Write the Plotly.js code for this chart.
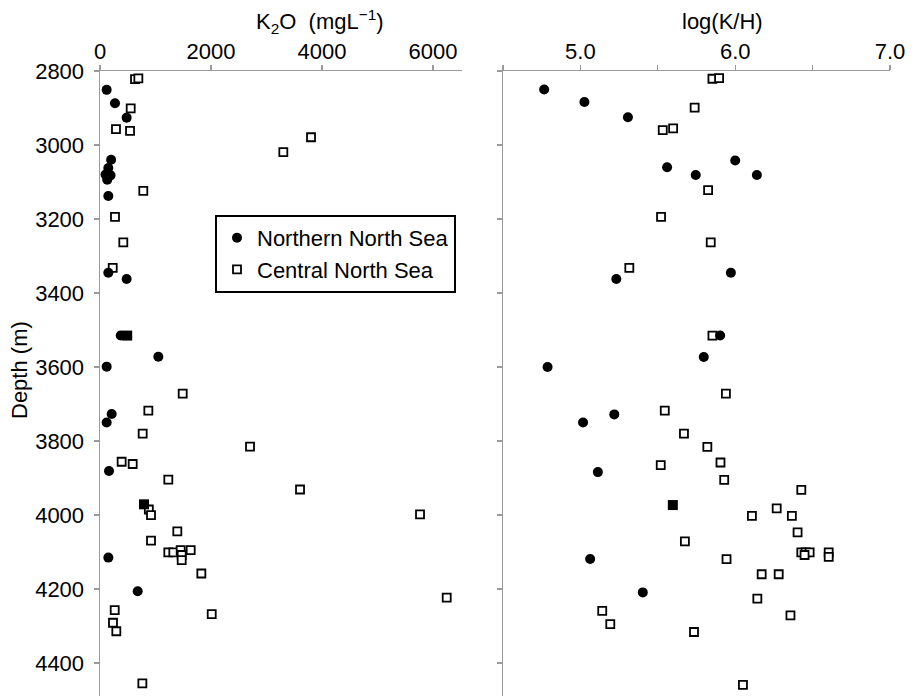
<!DOCTYPE html>
<html><head><meta charset="utf-8">
<script src="https://cdn.plot.ly/plotly-3.0.1.min.js"></script>
<style>html,body{margin:0;padding:0;background:#fff}#chart{width:917px;height:696px}</style>
</head><body><div id="chart"></div>
<script>
// Left panel: K2O (mg/L) vs depth (m)
const northK2O   = [120, 270, 480, 200, 150, 100, 190, 130, 150, 150, 480, 373, 1051, 120, 210, 120, 162, 150, 679];
const northDepthA = [2851, 2887, 2926, 3040, 3062, 3080, 3082, 3094, 3138, 3345, 3362, 3515, 3572, 3599, 3727, 3750, 3881, 4115, 4206];
const centralK2O = [631, 691, 553, 288, 541, 3802, 3303, 780, 270, 420, 229, 1490, 871, 769, 2703, 390, 589, 1231, 3604, 880, 919, 5766, 1393, 919, 1231, 1321, 1454, 1634, 1472, 1472, 1826, 6247, 265, 2013, 234, 294, 763];
const centralDepthA = [2822, 2820, 2901, 2957, 2962, 2979, 3019, 3124, 3194, 3263, 3332, 3672, 3718, 3780, 3815, 3856, 3862, 3904, 3931, 3985, 4000, 3998, 4044, 4069, 4101, 4101, 4095, 4095, 4108, 4122, 4158, 4223, 4257, 4268, 4291, 4314, 4455];
const otherK2O = [490, 793];
const otherDepthA = [3515, 3971];

// Right panel: log(K/H) vs depth (m)
const northLogKH = [4.766, 5.026, 5.307, 6.0, 5.56, 5.745, 6.14, 5.972, 5.232, 5.903, 5.797, 4.788, 5.219, 5.017, 5.113, 5.063, 5.403];
const northDepthB = [2850, 2884, 2925, 3042, 3060, 3081, 3081, 3345, 3362, 3515, 3573, 3600, 3728, 3750, 3884, 4119, 4209];
const centralLogKH = [5.853, 5.896, 5.738, 5.532, 5.599, 5.825, 5.521, 5.842, 5.316, 5.853, 5.94, 5.545, 5.669, 5.82, 5.905, 5.519, 5.929, 6.427, 6.268, 6.108, 6.366, 6.403, 5.675, 6.427, 6.455, 6.481, 6.448, 6.604, 6.604, 5.944, 6.171, 6.281, 6.143, 6.357, 5.141, 5.193, 5.734, 6.05];
const centralDepthB = [2821, 2819, 2899, 2960, 2955, 3122, 3194, 3263, 3332, 3515, 3672, 3718, 3780, 3816, 3858, 3865, 3905, 3932, 3982, 4002, 4002, 4047, 4071, 4101, 4101, 4101, 4108, 4101, 4113, 4119, 4160, 4160, 4226, 4271, 4259, 4295, 4316, 4459];
const otherLogKH = [5.597];
const otherDepthB = [3973];

const seriesNames = ['Northern North Sea', 'Central North Sea'];
const k2oTicks = [0, 2000, 4000, 6000];
const khTickVals = [5.0, 6.0, 7.0];
const khMinorVals = [4.5, 5.5, 6.5];
const depthTicks = [2800, 3000, 3200, 3400, 3600, 3800, 4000, 4200, 4400];

const FONT = 'Liberation Sans, Arial, sans-serif';
const FS = 22;
const circleM = {symbol: 'circle', size: 10, color: '#000', line: {width: 0}};
const squareM = {symbol: 'square', size: 8, color: '#fff', line: {color: '#000', width: 1.8}};
const filledM = {symbol: 'square', size: 10, color: '#000', line: {width: 0}};

const traces = [
  {x: centralK2O, y: centralDepthA, xaxis: 'x', yaxis: 'y', mode: 'markers', type: 'scatter', name: seriesNames[1], marker: squareM, showlegend: false},
  {x: otherK2O, y: otherDepthA, xaxis: 'x', yaxis: 'y', mode: 'markers', type: 'scatter', name: 'other', marker: filledM, showlegend: false},
  {x: northK2O, y: northDepthA, xaxis: 'x', yaxis: 'y', mode: 'markers', type: 'scatter', name: seriesNames[0], marker: circleM, showlegend: true, legendrank: 1},
  {x: [null], y: [null], xaxis: 'x', yaxis: 'y', mode: 'markers', type: 'scatter', name: seriesNames[1], marker: squareM, showlegend: true, legendrank: 2},
  {x: centralLogKH, y: centralDepthB, xaxis: 'x2', yaxis: 'y2', mode: 'markers', type: 'scatter', name: seriesNames[1], marker: squareM, showlegend: false},
  {x: otherLogKH, y: otherDepthB, xaxis: 'x2', yaxis: 'y2', mode: 'markers', type: 'scatter', name: 'other', marker: filledM, showlegend: false},
  {x: northLogKH, y: northDepthB, xaxis: 'x2', yaxis: 'y2', mode: 'markers', type: 'scatter', name: seriesNames[0], marker: circleM, showlegend: false}
];

const axColor = '#9a9a9a';
const common = {showgrid: false, zeroline: false, showline: true, linecolor: axColor, linewidth: 1.5,
  ticks: 'outside', ticklen: 5, tickwidth: 1.3, tickcolor: axColor,
  tickfont: {family: FONT, size: FS, color: '#000'}};

const layout = {
  width: 917, height: 696,
  margin: {l: 0, r: 0, t: 71, b: 0},
  paper_bgcolor: '#fff', plot_bgcolor: '#fff',
  font: {family: FONT, size: FS, color: '#000'},
  xaxis: Object.assign({}, common, {domain: [100/917, 461.7/917], range: [0, 6517], side: 'top', anchor: 'y',
    tickvals: k2oTicks, ticklabelstandoff: -3}),
  yaxis: Object.assign({}, common, {domain: [0, 1], range: [4489, 2800], anchor: 'x', tickvals: depthTicks, ticklabelstandoff: 5}),
  xaxis2: Object.assign({}, common, {domain: [503/917, 890/917], range: [4.5, 7.0], side: 'top', anchor: 'y2',
    tickvals: khTickVals, tickformat: '.1f', ticklabelstandoff: -3,
    minor: {tickvals: khMinorVals, ticks: 'outside', ticklen: 5, tickwidth: 1.3, tickcolor: axColor, showgrid: false}}),
  yaxis2: Object.assign({}, common, {domain: [0, 1], range: [4489, 2800], anchor: 'x2', tickvals: depthTicks, showticklabels: false}),
  showlegend: true,
  legend: {x: 215/917, y: (696-215)/625, xanchor: 'left', yanchor: 'top', bgcolor: '#fff',
    bordercolor: '#000', borderwidth: 2, font: {family: FONT, size: FS, color: '#000'},
    traceorder: 'normal', itemwidth: 30, tracegroupgap: 0},
  annotations: [
    {xref: 'paper', yref: 'paper', x: 320/917, y: 1 + (71-22)/625, xanchor: 'center', yanchor: 'middle', showarrow: false,
     text: 'K<sub>2</sub>O\u00a0 (mgL<sup>\u22121</sup>)', font: {family: FONT, size: FS, color: '#000'}},
    {xref: 'paper', yref: 'paper', x: 722/917, y: 1 + (71-22)/625, xanchor: 'center', yanchor: 'middle', showarrow: false,
     text: 'log(K/H)', font: {family: FONT, size: FS, color: '#000'}},
    {xref: 'paper', yref: 'paper', x: 19/917, y: (696-370)/625, xanchor: 'center', yanchor: 'middle', showarrow: false,
     textangle: -90, text: 'Depth (m)', font: {family: FONT, size: FS, color: '#000'}}
  ]
};

Plotly.newPlot('chart', traces, layout, {displayModeBar: false, staticPlot: true});
</script>
</body></html>
